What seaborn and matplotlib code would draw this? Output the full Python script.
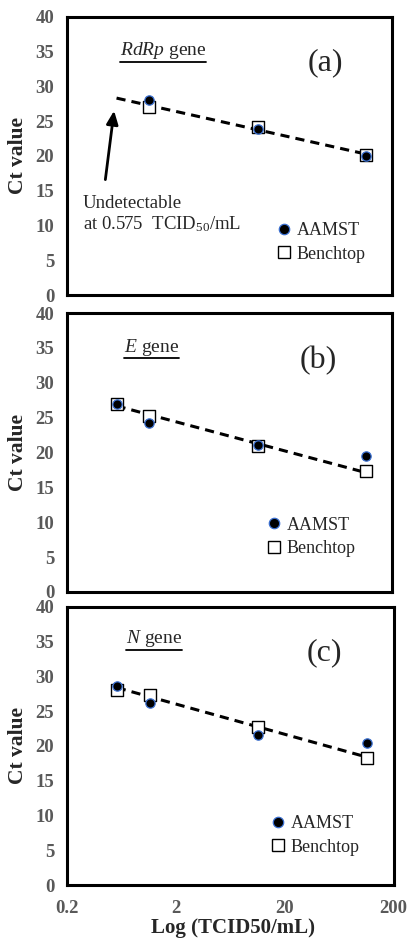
import numpy as np
import seaborn as sns
import matplotlib.pyplot as plt
from matplotlib.lines import Line2D

# --- Data ---
conc = [0.575, 1.15, 11.5, 115]          # TCID50/mL
genes = ["RdRp", "E", "N"]
tags = ["(a)", "(b)", "(c)"]

rdrp_aamst = [np.nan, 28.1, 23.9, 20.0]
rdrp_bench = [np.nan, 27.1, 24.1, 20.1]
e_aamst = [26.9, 24.3, 21.1, 19.5]
e_bench = [27.0, 25.2, 21.0, 17.3]
n_aamst = [28.6, 26.2, 21.6, 20.5]
n_bench = [28.1, 27.4, 22.8, 18.3]

aamst = [rdrp_aamst, e_aamst, n_aamst]
bench = [rdrp_bench, e_bench, n_bench]

xticks = [0.2, 2, 20, 200]
xtick_labels = ["0.2", "2", "20", "200"]

# --- Style ---
sns.set_style("white")
plt.rcParams['font.family'] = ['Liberation Serif', 'DejaVu Serif']
plt.rcParams['mathtext.fontset'] = 'custom'
plt.rcParams['mathtext.rm'] = 'Liberation Serif'
plt.rcParams['mathtext.it'] = 'Liberation Serif:italic'

gray = "#595959"
fig = plt.figure(figsize=(4.1, 9.38), dpi=100)
boxes = [[0.163, 0.6855, 0.793, 0.2965],
         [0.163, 0.3689, 0.793, 0.2974],
         [0.163, 0.0565, 0.797, 0.2964]]
legend_pos = [(0.612, 0.09), (0.582, 0.10), (0.592, 0.08)]
gene_pos = [(0.163, 0.88), (0.176, 0.878), (0.18, 0.885)]
tag_pos = [(0.794, 0.835), (0.772, 0.83), (0.788, 0.835)]

gene_texts = []
for i, box in enumerate(boxes):
    ax = fig.add_axes(box)
    a = np.array(aamst[i], dtype=float)
    b = np.array(bench[i], dtype=float)

    # log trendline of benchtop values
    ok = ~np.isnan(b)
    k, c0 = np.polyfit(np.log10(np.array(conc)[ok]), b[ok], 1)
    xfit = np.array([conc[0], conc[-1]])
    sns.lineplot(x=xfit, y=k * np.log10(xfit) + c0, ax=ax, color="black",
                 lw=2.2, zorder=2, legend=False)
    ax.lines[-1].set_dashes((3.0, 2.0))

    sns.scatterplot(x=conc, y=b, ax=ax, marker="s", s=75, color="white",
                    edgecolor="black", linewidth=1, zorder=3)
    sns.scatterplot(x=conc, y=a, ax=ax, marker="o", s=45, color="black",
                    edgecolor="#3a6fd0", linewidth=0.9, zorder=4)

    ax.set_xscale("log")
    ax.set_xlim(0.2, 200)
    ax.set_ylim(0, 40)
    ax.set_yticks(range(0, 41, 5))
    ax.set_xticks(xticks)
    ax.minorticks_off()
    ax.tick_params(axis="both", direction="in", length=4, width=1.2,
                   colors="black", labelcolor=gray, labelsize=13.5)
    for t in ax.get_yticklabels():
        t.set_fontweight("bold")
    if i == 2:
        ax.set_xticklabels(xtick_labels, fontweight="bold")
        ax.tick_params(axis="x", pad=11)
        ax.set_xlabel("Log (TCID50/mL)", fontsize=15, fontweight="bold")
        ax.xaxis.set_label_coords(0.51, -0.118)
    else:
        ax.set_xticklabels([])
    ax.tick_params(axis="y", pad=9)
    ax.set_ylabel("Ct value", fontsize=15.5, fontweight="bold")
    ax.yaxis.set_label_coords(-0.118, 0.5)
    for s in ax.spines.values():
        s.set_linewidth(2.2)
        s.set_color("black")

    handles = [Line2D([], [], ls="none", marker="o", ms=7.5, mfc="black",
                      mec="#3a6fd0", mew=0.9),
               Line2D([], [], ls="none", marker="s", ms=8.5, mfc="white",
                      mec="black", mew=1)]
    ax.legend(handles, ["AAMST", "Benchtop"], loc="lower left",
              bbox_to_anchor=legend_pos[i], frameon=False, fontsize=13,
              handletextpad=0.1, handlelength=1.2, labelspacing=0.35,
              borderaxespad=0)

    gt = ax.text(gene_pos[i][0], gene_pos[i][1], r"$\mathit{" + genes[i] + "}$ gene",
                 transform=ax.transAxes, fontsize=14, va="center", ha="left")
    gene_texts.append((ax, gt))
    ax.text(tag_pos[i][0], tag_pos[i][1], tags[i], transform=ax.transAxes,
            fontsize=23, va="center", ha="center")

    if i == 0:
        ax.annotate("", xy=(0.55, 26.9), xytext=(0.45, 16.2),
                    arrowprops=dict(arrowstyle="-|>,head_length=0.8,head_width=0.35",
                                    color="black", lw=2))
        ax.text(0.28, 11.6, "Undetectable\nat 0.575  TCID$_{50}$/mL",
                fontsize=13.5, va="center", ha="left", linespacing=1.15)

# underline the gene labels
fig.canvas.draw()
r = fig.canvas.get_renderer()
for ax, gt in gene_texts:
    bb = gt.get_window_extent(r).transformed(fig.transFigure.inverted())
    fig.add_artist(Line2D([bb.x0, bb.x1], [bb.y0 - 0.001, bb.y0 - 0.001],
                          transform=fig.transFigure, color="black", lw=1.3))

fig.savefig("out.png", dpi=100)
